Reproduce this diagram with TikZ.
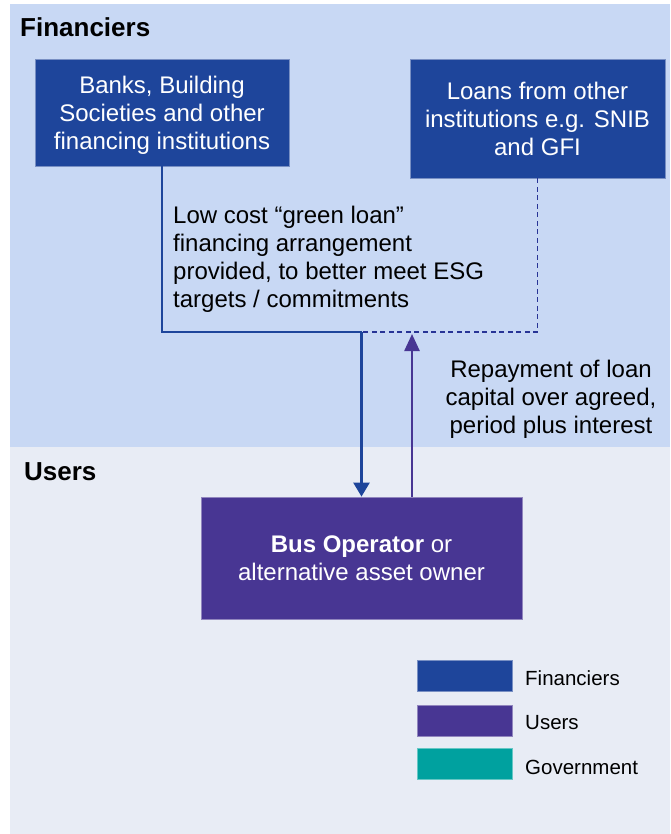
\documentclass[tikz,border=0pt]{standalone}
\usepackage{fontspec}
\setmainfont{Liberation Sans}
\usetikzlibrary{arrows.meta,calc}
\definecolor{finblue}{RGB}{30,69,155}
\definecolor{userpurple}{RGB}{72,54,147}
\definecolor{govteal}{RGB}{0,161,159}
\definecolor{finbg}{RGB}{200,216,244}
\definecolor{userbg}{RGB}{232,236,245}
\definecolor{dashblue}{RGB}{40,52,150}
\begin{document}
\begin{tikzpicture}[x=1pt,y=-1pt,
  bodytext/.style={font=\fontsize{24}{28}\selectfont,inner sep=0pt},
  header/.style={font=\fontsize{26}{30}\selectfont\bfseries,inner sep=0pt,anchor=west},
  finbox/.style={fill=finblue,draw=finblue!60!white,line width=0.8pt,text=white,
    font=\fontsize{24}{28}\selectfont,align=center,inner sep=0pt},
  userbox/.style={fill=userpurple,draw=userpurple!60!white,line width=0.8pt,text=white,
    font=\fontsize{24}{28}\selectfont,align=center,inner sep=0pt},
  keybox/.style={draw=#1!60!white,fill=#1,line width=0.8pt,minimum width=95pt,
    minimum height=31pt,inner sep=0pt},
  keytext/.style={font=\fontsize{20.5}{24}\selectfont,inner sep=0pt,anchor=west},
  loanflow/.style={draw=finblue,line width=2.5pt},
  otherflow/.style={draw=dashblue,line width=1.3pt,dash pattern=on 5pt off 3.5pt},
  repayflow/.style={draw=userpurple,line width=2.5pt}
]
\useasboundingbox (0,0) rectangle (670,834);

% panel backgrounds
\fill[finbg] (10,4) rectangle (670,447);
\fill[userbg] (10,447) rectangle (670,834);

% panel headers
\node[header] (hfin) at (20,27) {Financiers};
\node[header] (husers) at (24,472) {Users};

% lenders (a trimmed text depth lets the text sit a little lower in its box)
\node[finbox,minimum width=254pt,minimum height=107pt,text depth=-5pt] (banks) at (162,112.5)
  {Banks, Building\\Societies and other\\financing institutions};
\node[finbox,minimum width=255pt,minimum height=119pt,text depth=-5pt] (others) at (537.5,118.5)
  {Loans from other\\institutions e.g. SNIB\\and GFI};

% borrower
\node[userbox,minimum width=321pt,minimum height=122pt,text depth=-6pt] (bus) at (361.5,558)
  {\textbf{Bus Operator} or\\alternative asset owner};

% flows
\coordinate (join) at (361.5,332);
\coordinate (rtop) at (412,334);
\draw[loanflow] (banks.south) |- (join);
\draw[otherflow] (others.south) |- (join);
\draw[loanflow,-{Triangle[width=16pt,length=14pt]}] (join) -- (join |- bus.north);
\draw[repayflow,-{Triangle[width=15pt,length=17pt]}] (rtop |- bus.north) -- (rtop);

% flow labels
\node[bodytext,align=left,anchor=west] (loanlbl) at (173,259)
  {Low cost “green loan”\\financing arrangement\\provided, to better meet ESG\\targets / commitments};
\node[bodytext,align=center] (repaylbl) at (551,399)
  {Repayment of loan\\capital over agreed,\\period plus interest};

% key
\node[keybox=finblue] (kfin) at (464.5,675.5) {};
\node[keybox=userpurple] (kuser) at (464.5,721) {};
\node[keybox=govteal] (kgov) at (464.5,763.5) {};
\node[keytext] (tfin) at (525,678) {Financiers};
\node[keytext] (tuser) at (525,723) {Users};
\node[keytext] (tgov) at (525,767) {Government};
\end{tikzpicture}
\end{document}
